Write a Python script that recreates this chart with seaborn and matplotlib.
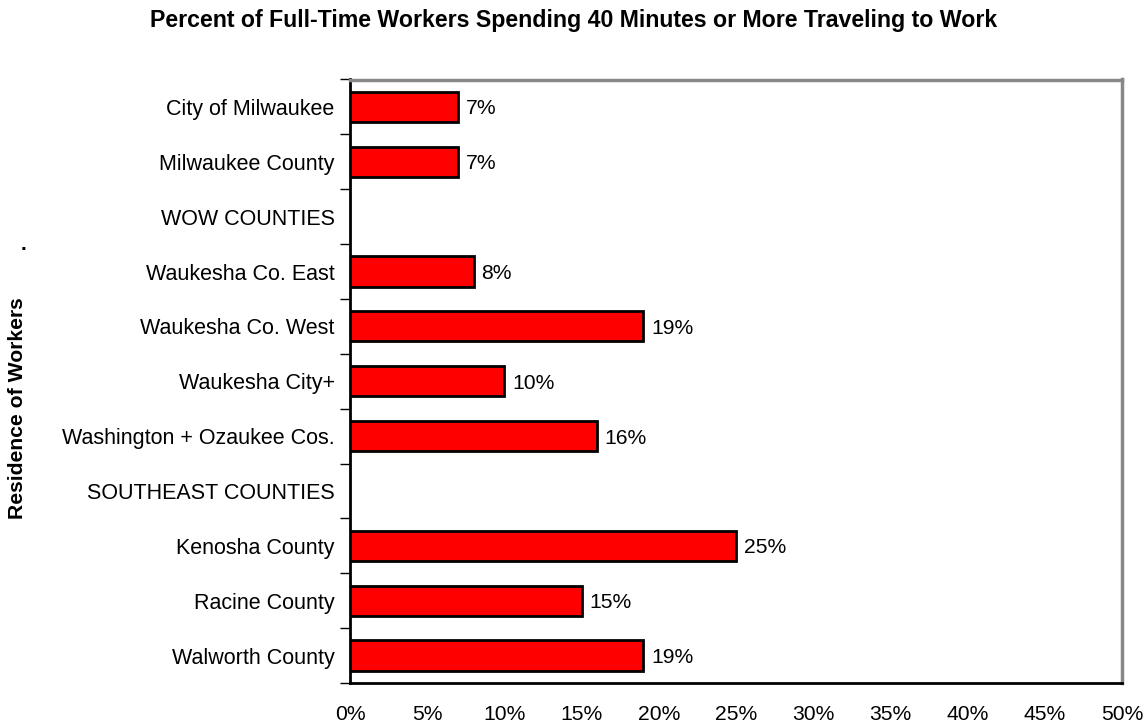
import matplotlib
matplotlib.use("Agg")
import matplotlib.pyplot as plt
import seaborn as sns
import numpy as np
import pandas as pd

sns.set_style("white")
plt.rcParams['font.family'] = ['Liberation Sans', 'DejaVu Sans']
plt.rcParams['text.color'] = 'black'
plt.rcParams['xtick.color'] = 'black'
plt.rcParams['ytick.color'] = 'black'

categories = ["City of Milwaukee", "Milwaukee County", "WOW COUNTIES",
              "Waukesha Co. East", "Waukesha Co. West", "Waukesha City+",
              "Washington + Ozaukee Cos.", "SOUTHEAST COUNTIES",
              "Kenosha County", "Racine County", "Walworth County"]
values = [7, 7, np.nan, 8, 19, 10, 16, np.nan, 25, 15, 19]
xticks = list(range(0, 51, 5))

df = pd.DataFrame({"area": categories, "pct": values})

fig = plt.figure(figsize=(11.48, 7.27), dpi=100)
ax = fig.add_axes([350 / 1148, 1 - 683 / 727, 772 / 1148, (683 - 79.5) / 727])

sns.barplot(data=df, y="area", x="pct", order=categories, orient="h",
            color="#ff0000", saturation=1, width=0.55,
            edgecolor="black", linewidth=2, ax=ax)

# value labels to the right of each bar
for i, v in enumerate(values):
    if not np.isnan(v):
        ax.text(v + 0.5, i, f"{v:.0f}%", va="center_baseline", ha="left", fontsize=15.2)

ax.set_xlim(0, 50)
ax.set_ylim(len(categories) - 0.5, -0.5)
ax.set_xticks(xticks)
ax.set_xticklabels([f"{t}%" for t in xticks], fontsize=15.2)
ax.tick_params(axis="x", length=7, width=1, direction="out", pad=9)

# category labels on minor ticks, tick marks at boundaries
ax.set_yticks(np.arange(-0.5, len(categories), 1.0))
ax.set_yticklabels([])
ax.set_yticks(np.arange(len(categories)), minor=True)
ax.set_yticklabels(categories, minor=True, fontsize=15.5)
ax.tick_params(axis="y", which="major", length=7, width=1, direction="out", left=True)
ax.tick_params(axis="y", which="minor", length=0, pad=11)

ax.set_xlabel("")
ax.set_ylabel("")

for side in ["left", "bottom"]:
    ax.spines[side].set_color("black")
    ax.spines[side].set_linewidth(2)
for side in ["top", "right"]:
    ax.spines[side].set_color("#888888")
    ax.spines[side].set_linewidth(2.5)

fig.suptitle("Percent of Full-Time Workers Spending 40 Minutes or More Traveling to Work",
             x=573.5 / 1148, y=1 - 21 / 727, va="center", fontsize=16.7, fontweight="bold")
fig.text(18 / 1148, 1 - 408 / 727, "Residence of Workers", rotation=90,
         ha="center", va="center", fontsize=15.2, fontweight="bold")
fig.text(23 / 1148, 1 - 245 / 727, ".", ha="center", va="center", fontsize=15, fontweight="bold")

fig.savefig("out.png", dpi=100)
